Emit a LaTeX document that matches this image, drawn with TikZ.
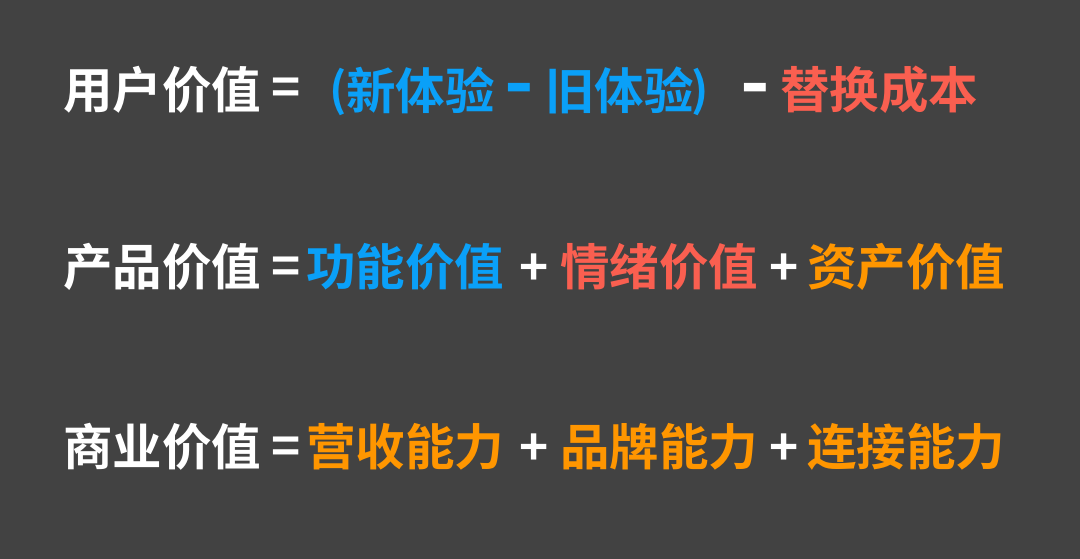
\documentclass[tikz,border=0pt]{standalone}
\usepackage{fontspec}
\usepackage{tikz}
\usetikzlibrary{positioning}
\newfontfamily\cjk{Noto Sans CJK SC Bold}
\definecolor{bg}{HTML}{424242}
\definecolor{vblue}{HTML}{0AA0F8}
\definecolor{vred}{HTML}{FA5F50}
\definecolor{vorange}{HTML}{FF9600}

\begin{document}
\begin{tikzpicture}[x=1pt,y=-1pt,
	txt/.style={font=\cjk\fontsize{49.5}{60}\selectfont, inner sep=0pt, anchor=west},
	op/.style={txt, white, anchor=center},
	eqsign/.style={op, yshift=-4pt},
	plussign/.style={op, yshift=-2.5pt},
	minussign/.style={op, font=\cjk\fontsize{80}{90}\selectfont, yshift=-9pt},
	paren/.style={op, vblue, font=\cjk\fontsize{46}{54}\selectfont}]
	\fill [bg] (0,0) rectangle (1080,559);
	\useasboundingbox (0,0) rectangle (1080,559);
	% user value
	\node[txt, white] (user) at (63,90) {用户价值};
	\node[eqsign] (usereq) at (286,88) {=};
	\node[paren] (lpar) at (338.5,92) {(};
	\node[txt, vblue] (newexp) at (346,90) {新体验};
	\node[minussign, vblue] (minusa) at (519,88) {-};
	\node[txt, vblue] (oldexp) at (545,90) {旧体验};
	\node[paren] (rpar) at (700,92) {)};
	\node[minussign] (minusb) at (755,88) {-};
	\node[txt, vred] (switch) at (780,90) {替换成本};
	% product value
	\node[txt, white] (product) at (63,267) {产品价值};
	\node[eqsign] (prodeq) at (286,267) {=};
	\node[txt, vblue] (func) at (306,267) {功能价值};
	\node[plussign] (plusa) at (534.5,267) {+};
	\node[txt, vred] (emo) at (560,267) {情绪价值};
	\node[plussign] (plusb) at (784.5,267) {+};
	\node[txt, vorange] (asset) at (807,267) {资产价值};
	% business value
	\node[txt, white] (business) at (63,447) {商业价值};
	\node[eqsign] (buseq) at (286,447) {=};
	\node[txt, vorange] (revenue) at (306,447) {营收能力};
	\node[plussign] (plusc) at (534.5,447) {+};
	\node[txt, vorange] (brand) at (560,447) {品牌能力};
	\node[plussign] (plusd) at (784.5,447) {+};
	\node[txt, vorange] (connect) at (807,447) {连接能力};
\end{tikzpicture}
\end{document}
